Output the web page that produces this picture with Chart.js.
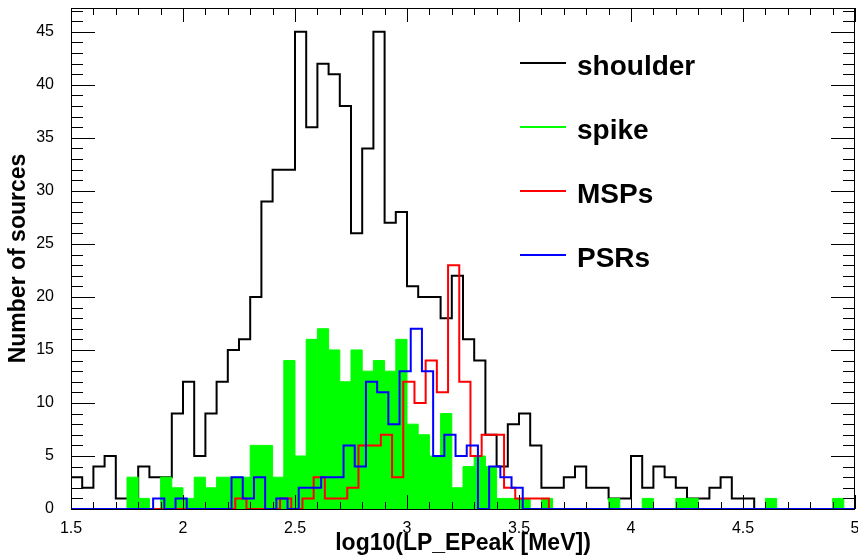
<!DOCTYPE html>
<html>
<head>
<meta charset="utf-8">
<script src="https://cdn.jsdelivr.net/npm/chart.js@4.4.1/dist/chart.umd.min.js"></script>
<style>
  html, body { margin: 0; padding: 0; background: #fff; }
  canvas { display: block; }
</style>
</head>
<body>
<canvas id="stage" width="858" height="559"></canvas>
<script>
// bin setup (log10 EPeak), 0.05 wide
var binWidth = 0.05;
var shoulderStart = 1.5;
var spikeStart = 1.5;
var mspStart = 1.4833;   // MSP histogram drawn shifted by 2/3 bin
var psrStart = 1.4667;   // PSR histogram drawn shifted by 1/3 bin

// counts per bin
var shoulder = [3, 2, 4, 5, 1,  1, 4, 3, 3, 9,  12, 5, 9, 12, 15,  16, 20, 29, 32, 32,
                45, 36, 42, 41, 38,  26, 34, 45, 27, 28,  21, 20, 20, 18, 22,  16, 14, 7, 4, 8,
                9, 6, 2, 2, 3,  4, 2, 2, 1, 1,  5, 2, 4, 3, 2,  1, 1, 2, 3, 1,
                1, 0, 0, 0, 0,  0, 0, 0, 0, 0];
var spike = [0, 0, 0, 0, 0,  3, 1, 0, 3, 2,  1, 3, 2, 3, 3,  3, 6, 6, 3, 14,
             5, 16, 17, 15, 12,  15, 13, 14, 13, 16,  8, 7, 5, 9, 2,  4, 5, 4, 1, 1,
             1, 0, 1, 0, 0,  0, 0, 0, 1, 0,  0, 1, 0, 0, 1,  1, 0, 0, 0, 0,
             0, 0, 1, 0, 0,  0, 0, 0, 1, 0];
var msps = [0, 0, 0, 0, 0,  0, 0, 0, 0, 0,  0, 0, 0, 0, 0,  1, 0, 0, 0, 1,
            0, 1, 3, 1, 1,  2, 6, 6, 7, 3,  12, 10, 14, 11, 23,  12, 5, 7, 7, 2,
            1, 1, 1, 0, 0,  0, 0, 0, 0, 0,  0, 0, 0, 0, 0,  0, 0, 0, 0, 0,
            0, 0, 0, 0, 0,  0, 0, 0, 0, 0,  0];
var psrs = [0, 0, 0, 0, 0,  0, 0, 0, 1, 0,  1, 0, 0, 0, 0,  3, 1, 3, 0, 1,
            0, 2, 2, 3, 3,  6, 4, 12, 11, 8,  13, 17, 13, 5, 7,  5, 6, 0, 4, 3,
            2, 0, 0, 0, 0,  0, 0, 0, 0, 0,  0, 0, 0, 0, 0,  0, 0, 0, 0, 0,
            0, 0, 0, 0, 0,  0, 0, 0, 0, 0,  0];

var seriesNames = ['shoulder', 'spike', 'MSPs', 'PSRs'];
var seriesColors = ['#000000', '#00ff00', '#ff0000', '#0000ff'];

// turn bin counts into points for a stepped line
function stepPoints(start, counts) {
  var pts = [{ x: start, y: 0 }];
  counts.forEach(function (c, i) {
    pts.push({ x: start + i * binWidth, y: c });
  });
  pts.push({ x: start + counts.length * binWidth, y: 0 });
  return pts;
}

Chart.defaults.font.family = "'Liberation Sans', Arial, Helvetica, sans-serif";
Chart.defaults.color = '#000';

// ROOT style frame with inner ticks on all four sides
var frameTicks = {
  id: 'frameTicks',
  afterDatasetsDraw: function (chart) {
    var ctx = chart.ctx, a = chart.chartArea;
    var xs = chart.scales.x, ys = chart.scales.y;
    ctx.save();
    ctx.strokeStyle = '#000';
    ctx.lineWidth = 1;
    ctx.beginPath();
    for (var t = 15; t <= 50; t++) {
      var px = Math.round(xs.getPixelForValue(t / 10)) + 0.5;
      var len = (t % 5 === 0) ? 14 : 7;
      ctx.moveTo(px, a.bottom); ctx.lineTo(px, a.bottom - len);
      ctx.moveTo(px, a.top); ctx.lineTo(px, a.top + len);
    }
    for (var n = 0; n <= 47; n++) {
      var py = Math.round(ys.getPixelForValue(n)) + 0.5;
      var l2 = (n % 5 === 0) ? 24 : 12;
      ctx.moveTo(a.left, py); ctx.lineTo(a.left + l2, py);
      ctx.moveTo(a.right, py); ctx.lineTo(a.right - l2, py);
    }
    ctx.stroke();
    ctx.strokeRect(Math.round(a.left) + 0.5, Math.round(a.top) + 0.5,
                   Math.round(a.right - a.left) - 1, Math.round(a.bottom - a.top));
    ctx.restore();
  }
};

// legend in the top right, like the TLegend
var rootLegend = {
  id: 'rootLegend',
  afterDraw: function (chart) {
    var ctx = chart.ctx;
    ctx.save();
    ctx.font = "bold 28px 'Liberation Sans', Arial, sans-serif";
    ctx.textBaseline = 'alphabetic';
    ctx.textAlign = 'left';
    seriesNames.forEach(function (name, i) {
      var y = 63 + i * 64;
      ctx.strokeStyle = seriesColors[i];
      ctx.lineWidth = 2;
      ctx.beginPath();
      ctx.moveTo(520, y);
      ctx.lineTo(566, y);
      ctx.stroke();
      ctx.fillStyle = '#000';
      ctx.fillText(name, 577, y + 12);
    });
    ctx.restore();
  }
};

var canvas = document.getElementById('stage');
var chart = new Chart(canvas, {
  type: 'line',
  data: {
    datasets: [
      { label: seriesNames[0], data: stepPoints(shoulderStart, shoulder), borderColor: seriesColors[0],
        borderWidth: 2, stepped: 'before', fill: false, order: 4 },
      { label: seriesNames[1], data: stepPoints(spikeStart, spike), borderColor: seriesColors[1],
        backgroundColor: seriesColors[1], borderWidth: 1, stepped: 'before', fill: 'origin', order: 3 },
      { label: seriesNames[2], data: stepPoints(mspStart, msps), borderColor: seriesColors[2],
        borderWidth: 2, stepped: 'before', fill: false, order: 2 },
      { label: seriesNames[3], data: stepPoints(psrStart, psrs), borderColor: seriesColors[3],
        borderWidth: 2, stepped: 'before', fill: false, order: 1 }
    ]
  },
  options: {
    responsive: false,
    animation: false,
    devicePixelRatio: 1,
    layout: { padding: { top: 8, right: 3, left: 0, bottom: 0 } },
    elements: { point: { radius: 0 }, line: { tension: 0 } },
    plugins: { legend: { display: false }, tooltip: { enabled: false } },
    scales: {
      x: {
        type: 'linear', min: 1.5, max: 5,
        grid: { display: false }, border: { display: false },
        ticks: { stepSize: 0.5, padding: 2, maxRotation: 0, autoSkip: false, font: { size: 16 },
                 callback: function (v) { return String(v); } },
        title: { display: true, text: 'log10(LP_EPeak [MeV])', font: { size: 23, weight: 'bold' },
                 padding: { top: 0, bottom: 2 } },
        afterFit: function (s) { s.height = 50; s.paddingLeft = 0; s.paddingRight = 0; }
      },
      y: {
        min: 0, max: 47.25,
        grid: { display: false }, border: { display: false },
        ticks: { stepSize: 5, includeBounds: false, padding: 9, font: { size: 16 } },
        title: { display: true, text: 'Number of sources', font: { size: 23, weight: 'bold' },
                 padding: { top: 5, bottom: 0 } },
        afterFit: function (s) { s.width = 71; s.paddingTop = 0; s.paddingBottom = 0; }
      }
    }
  },
  plugins: [frameTicks, rootLegend]
});
</script>
</body>
</html>
